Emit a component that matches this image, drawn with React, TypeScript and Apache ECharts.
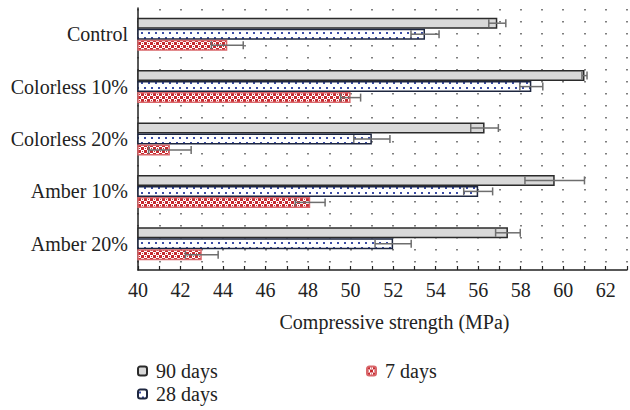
import React, { useEffect, useRef } from "react";
import * as echarts from "echarts";

const categories = ["Control", "Colorless 10%", "Colorless 20%", "Amber 10%", "Amber 20%"];
const days90 = [56.9, 61.0, 56.3, 59.6, 57.4];
const err90 = [0.4, 0.12, 0.65, 1.4, 0.58];
const days28 = [53.5, 58.5, 51.0, 56.0, 52.0];
const err28 = [0.66, 0.54, 0.85, 0.68, 0.85];
const days7 = [44.2, 50.0, 41.5, 48.1, 43.0];
const err7 = [0.75, 0.47, 1.0, 0.7, 0.77];
const xTicks = [40, 42, 44, 46, 48, 50, 52, 54, 56, 58, 60, 62];

const FONT = "Liberation Serif";
const FS = 20;

function makeBluePattern() {
  const c = document.createElement("canvas");
  c.width = 7;
  c.height = 10;
  const g = c.getContext("2d")!;
  g.fillStyle = "#ffffff";
  g.fillRect(0, 0, 7, 10);
  g.fillStyle = "#3b4da6";
  g.fillRect(1, 2, 2, 2);
  g.fillRect(4, 7, 2, 2);
  return c;
}

function makeRedPattern() {
  const c = document.createElement("canvas");
  c.width = 6;
  c.height = 6;
  const g = c.getContext("2d")!;
  g.fillStyle = "#ffffff";
  g.fillRect(0, 0, 6, 6);
  g.fillStyle = "#c62a30";
  g.fillRect(0, 0, 3, 3);
  g.fillRect(3, 3, 3, 3);
  g.fillRect(4, 1, 1, 1);
  g.fillRect(1, 4, 1, 1);
  return c;
}

export default function App() {
  const ref = useRef<HTMLDivElement>(null);
  useEffect(() => {
    if (!ref.current) return;
    const chart = echarts.init(ref.current, null, { renderer: "svg" });
    const BW = 11;
    const errSeries = (name: string, vals: number[], errs: number[], offset: number) => ({
      type: "custom",
      name,
      silent: true,
      z: 10,
      encode: { x: 1, y: 0 },
      data: vals.map((v, i) => [i, v, errs[i]]),
      renderItem: (params: any, api: any) => {
        const ci = api.value(0);
        const v = api.value(1);
        const e = api.value(2);
        const p1 = api.coord([v - e, ci]);
        const p2 = api.coord([v + e, ci]);
        const y = p1[1] + offset;
        const h = 4;
        const st = { stroke: "#6e6e6e", lineWidth: 1.5 };
        return {
          type: "group",
          children: [
            { type: "line", shape: { x1: p1[0], y1: y, x2: p2[0], y2: y }, style: st },
            { type: "line", shape: { x1: p1[0], y1: y - h, x2: p1[0], y2: y + h }, style: st },
            { type: "line", shape: { x1: p2[0], y1: y - h, x2: p2[0], y2: y + h }, style: st },
          ],
        };
      },
    });
    const legendItem = (name: string, left: number, top: number) => ({
      data: [name],
      left,
      top,
      itemWidth: 9,
      itemHeight: 9,
      itemGap: 10,
      textStyle: { fontFamily: FONT, fontSize: FS, color: "#222", padding: [0, 0, 0, 4] },
    });
    const option: any = {
      animation: false,
      grid: { left: 138, top: 8, right: -1, bottom: 140 },
      legend: [
        legendItem("90 days", 132, 356),
        legendItem("28 days", 132, 379),
        legendItem("7 days", 361, 356),
      ],
      xAxis: {
        type: "value",
        min: 40,
        max: 63,
        interval: 1,
        name: "Compressive strength (MPa)",
        nameLocation: "middle",
        nameGap: 42,
        nameTextStyle: { fontFamily: FONT, fontSize: FS, color: "#222", padding: [0, 0, 0, 24] },
        axisLine: { show: true, lineStyle: { color: "#222", width: 1.5 } },
        axisTick: { show: true, inside: true, length: 4, lineStyle: { color: "#222", width: 1.2 } },
        axisLabel: {
          fontFamily: FONT,
          fontSize: FS,
          color: "#222",
          margin: 10,
          formatter: (v: number) => (xTicks.indexOf(v) >= 0 ? String(v) : ""),
        },
        splitLine: {
          show: true,
          lineStyle: { color: "#555", width: 1.5, type: [1.5, 10.5], dashOffset: -1 },
        },
      },
      yAxis: {
        type: "category",
        data: categories,
        inverse: true,
        axisLine: { show: true, lineStyle: { color: "#222", width: 1.5 } },
        axisTick: { show: false },
        axisLabel: { fontFamily: FONT, fontSize: FS, color: "#222", margin: 10 },
        splitLine: { show: false },
      },
      series: [
        {
          type: "bar",
          name: "90 days",
          data: days90,
          barWidth: BW,
          barGap: "0%",
          itemStyle: { color: "#d9d9d9", borderColor: "#2b2b2b", borderWidth: 1.5 },
        },
        {
          type: "bar",
          name: "28 days",
          data: days28,
          barWidth: BW,
          barGap: "0%",
          itemStyle: {
            color: { image: makeBluePattern(), repeat: "repeat" },
            borderColor: "#1e2740",
            borderWidth: 1.5,
          },
        },
        {
          type: "bar",
          name: "7 days",
          data: days7,
          barWidth: BW,
          barGap: "0%",
          itemStyle: {
            color: { image: makeRedPattern(), repeat: "repeat" },
            borderColor: "#d9666a",
            borderWidth: 1.5,
          },
        },
        errSeries("e90", days90, err90, -BW),
        errSeries("e28", days28, err28, 0),
        errSeries("e7", days7, err7, BW),
      ],
    };
    chart.setOption(option);
    return () => chart.dispose();
  }, []);
  return (
    <div
      ref={ref}
      style={{ position: "absolute", left: 0, top: 0, width: 630, height: 410, background: "#fff" }}
    />
  );
}
